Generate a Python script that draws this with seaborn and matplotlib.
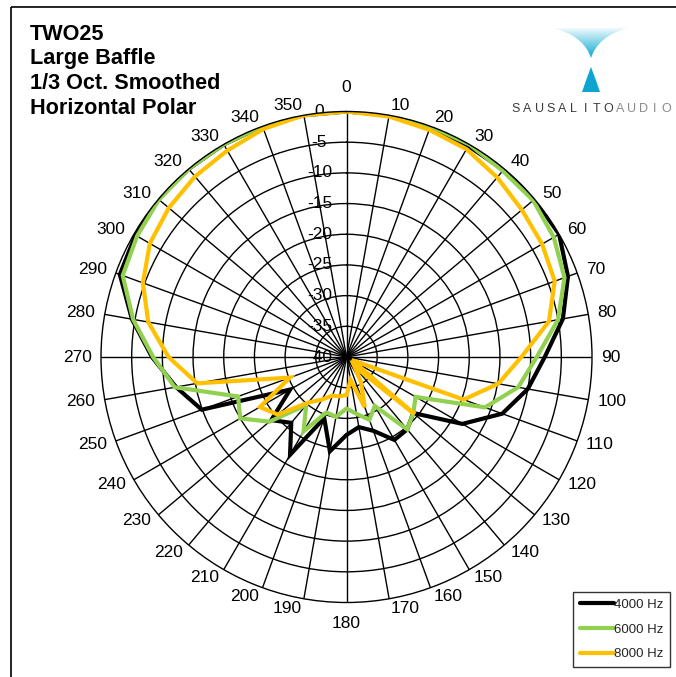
import numpy as np
import pandas as pd
import matplotlib
matplotlib.use("Agg")
import matplotlib.pyplot as plt
import seaborn as sns
from matplotlib.path import Path
from matplotlib.patches import PathPatch, Rectangle
from matplotlib.lines import Line2D
from matplotlib.colors import LinearSegmentedColormap
import matplotlib.transforms as mtransforms

# ---------------- data ----------------
angles_deg = list(range(0, 360, 10))
angle_labels = [str(a) for a in angles_deg]
series_names = ["4000 Hz", "6000 Hz", "8000 Hz"]
series_colors = ["#000000", "#92D050", "#FFC000"]

db_4000 = [0, 0, -0.2, -0.3, -0.2, 0, 0, -1.6, -4.2, -7.7, -10, -13,
           -18.2, -25.8, -24.6, -24.4, -27.2, -28.4, -27.3, -24.4, -29.4, -21.6, -26, -24,
           -29.4, -14.9, -11.8, -8.3, -4.5, -0.7, -0.3, 0, 0, 0, 0, 0]
db_6000 = [0, 0, 0, 0, -0.4, -0.3, -1.0, -2.2, -5.0, -9.0, -11.6, -16,
           -27, -25.8, -24.6, -30.8, -29.1, -30.6, -31.6, -30.1, -30.4, -26, -29.8, -23.6,
           -20, -21.2, -11.6, -8.5, -4.7, -1.2, -0.6, -0.1, 0, 0, 0, 0]
db_8000 = [0, -0.2, -0.6, -0.9, -1.8, -2.7, -3.2, -3.9, -6.5, -11.5, -14.9, -19.7,
           -39, -25.5, -38, -35.3, -31.3, -36.2, -33.8, -33.5, -33.3, -32, -30.3, -25.4,
           -23.7, -30.2, -15.3, -11, -7.2, -4.7, -3.0, -2.2, -1.6, -1.15, -0.45, 0]

r_ticks = [-40, -35, -30, -25, -20, -15, -10, -5, 0]
r_labels = [str(v) for v in r_ticks]

title_lines = ["TWO25", "Large Baffle", "1/3 Oct. Smoothed", "Horizontal Polar"]

# ---------------- build long table (closed loops) ----------------
rows = []
for name, vals in zip(series_names, [db_4000, db_6000, db_8000]):
    for a, v in zip(angles_deg + [360], vals + [vals[0]]):
        rows.append({"theta": np.deg2rad(a), "dB": v, "series": name})
df = pd.DataFrame(rows)

# ---------------- figure ----------------
sns.set_theme(style="white")
plt.rcParams["font.family"] = ["Liberation Sans", "DejaVu Sans"]

W, H = 676, 677
fig = plt.figure(figsize=(W / 100, H / 100), dpi=100)
fig.patch.set_facecolor("white")

cx, cy, R = 346.5, 357.0, 245.5
ax = fig.add_axes([(cx - R) / W, (H - cy - R) / H, 2 * R / W, 2 * R / H], projection="polar")
ax.set_facecolor("white")
ax.set_theta_zero_location("N")
ax.set_theta_direction(-1)

sns.lineplot(data=df, x="theta", y="dB", hue="series", hue_order=series_names,
             palette=series_colors, sort=False, estimator=None, linewidth=3.0,
             ax=ax, legend=False)
for ln in ax.get_lines():
    ln.set_solid_joinstyle("miter")
    ln.set_solid_capstyle("butt")

ax.set_ylim(-40, 0)
ax.set_yticks(r_ticks[1:-1])
ax.set_yticklabels([])
ax.set_xticks(np.deg2rad(angles_deg))
ax.set_xticklabels([])
ax.set_xlabel("")
ax.set_ylabel("")
ax.grid(True, color="black", linewidth=1.0)
ax.spines["polar"].set_color("black")
ax.spines["polar"].set_linewidth(1.0)

# angular labels, anchored just outside the outer ring (Excel-like alignment)
for a, lab in zip(angles_deg, angle_labels):
    s, c = np.sin(np.deg2rad(a)), np.cos(np.deg2rad(a))
    if a == 0:
        ha, va, d = "center", "bottom", 16
    elif a == 180:
        ha, va, d = "center", "top", 13
    elif a < 180:
        ha, va, d = "left", "center", 9.5
    else:
        ha, va, d = "right", "center", 9.5
    tr = mtransforms.offset_copy(ax.transData, fig=fig, x=d * s, y=d * c, units="dots")
    ax.text(np.deg2rad(a), 0, lab, transform=tr, ha=ha, va=va, fontsize=12.5,
            color="black", clip_on=False)

# radial labels on the 0-degree spoke
off = mtransforms.offset_copy(ax.transData, fig=fig, x=-27, y=0, units="dots")
for v, lab in zip(r_ticks, r_labels):
    ax.text(0, v, lab, transform=off, ha="center", va="center", fontsize=12.5,
            color="black", zorder=1)

# ---------------- overlay (title, logo, border) ----------------
ov = fig.add_axes([0, 0, 1, 1], zorder=-1)
ov.set_xlim(0, W)
ov.set_ylim(H, 0)
ov.axis("off")
ov.add_patch(Rectangle((11, 7), 800, 800, fill=False, edgecolor="black", linewidth=1.2))

ov2 = fig.add_axes([0, 0, 1, 1], zorder=5)
ov2.axis("off")
ov2.patch.set_alpha(0)

baselines = [39.5, 64, 89, 114]
for t, yb in zip(title_lines, baselines):
    ov2.text(30, yb, t, fontsize=15.6, fontweight="bold", ha="left", va="baseline", color="black")

# logo: upper funnel with gradient
verts = [(553, 28), (628, 28), (598, 36), (591, 58), (584, 36), (553, 28), (553, 28)]
codes = [Path.MOVETO, Path.LINETO, Path.CURVE3, Path.CURVE3, Path.CURVE3, Path.CURVE3, Path.CLOSEPOLY]
funnel = PathPatch(Path(verts, codes), facecolor="none", edgecolor="none")
ov2.add_patch(funnel)
grad = np.linspace(0, 1, 100).reshape(-1, 1)
cmap = LinearSegmentedColormap.from_list("lg", ["#ffffff", "#00A6D2"])
im = ov2.imshow(grad, extent=(553, 628, 59, 26), cmap=cmap, aspect="auto", interpolation="bilinear")
im.set_clip_path(funnel)

verts2 = [(591, 67), (596, 80), (600, 92), (591, 92), (582, 92), (586, 80), (591, 67), (591, 67)]
codes2 = [Path.MOVETO, Path.CURVE3, Path.CURVE3, Path.LINETO, Path.LINETO, Path.CURVE3, Path.CURVE3, Path.CLOSEPOLY]
ov2.add_patch(PathPatch(Path(verts2, codes2), facecolor="#0FA4D0", edgecolor="none"))

logo_text = "SAUSALITOAUDIO"
x0, step = 516, 11.55
for i, ch in enumerate(logo_text):
    col = "#3a3a3a" if i < 9 else "#8a8a8a"
    ov2.text(x0 + i * step, 109, ch, fontsize=9, ha="center", va="center", color=col)

ov2.set_xlim(0, W)
ov2.set_ylim(H, 0)

# legend
handles = [Line2D([0], [0], color=c, linewidth=3.0) for c in series_colors]
leg = fig.legend(handles, series_names, loc="upper left",
                 bbox_to_anchor=(573 / W, 1 - 592 / H), fontsize=9.5,
                 frameon=True, fancybox=False, edgecolor="black",
                 handlelength=2.6, handletextpad=0.0, borderpad=0.5,
                 labelspacing=0.95, borderaxespad=0.0)
leg.get_frame().set_linewidth(1.0)

fig.savefig("out.png", dpi=100)
